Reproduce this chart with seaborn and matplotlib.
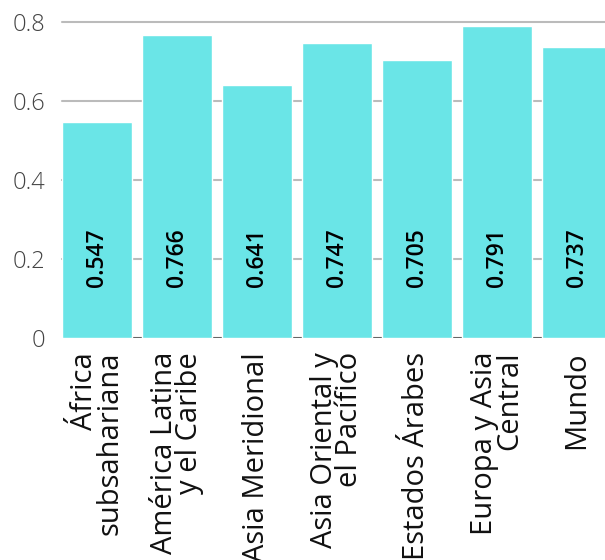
import matplotlib
matplotlib.use('Agg')
import matplotlib.pyplot as plt
import seaborn as sns
import pandas as pd

regiones = ['África\nsubsahariana', 'América Latina\ny el Caribe', 'Asia Meridional',
            'Asia Oriental y\nel Pacífico', 'Estados Árabes', 'Europa y Asia\nCentral', 'Mundo']
valores = [0.547, 0.766, 0.641, 0.747, 0.705, 0.791, 0.737]
ticks_y = [0, 0.2, 0.4, 0.6, 0.8]
ticks_y_txt = ['0', '0.2', '0.4', '0.6', '0.8']

df = pd.DataFrame({'region': regiones, 'idh': valores})

sns.set_style('white')
plt.rcParams['font.family'] = ['Open Sans', 'DejaVu Sans']

fig = plt.figure(figsize=(6.05, 5.6), dpi=100)
ax = fig.add_axes([62 / 605, 1 - 338 / 560, 560 / 605, 316 / 560])

sns.barplot(data=df, x='region', y='idh', color='#6ae5e7', saturation=1,
            width=0.875, ax=ax, zorder=2)

ax.set_xlim(-0.4375, 6.5625)
ax.set_ylim(0, 0.8)
ax.set_yticks(ticks_y)
ax.set_yticklabels(ticks_y_txt, fontsize=17, color='#444444', fontweight='light')
ax.tick_params(axis='y', length=0, pad=12)
ax.tick_params(axis='x', length=0, pad=10)
ax.set_xticks(range(len(regiones)))
ax.set_xticklabels(regiones, rotation=90, fontsize=21, color='#111111',
                   fontweight='medium', ha='center', va='top',
                   multialignment='right', linespacing=0.85)
ax.set_xlabel('')
ax.set_ylabel('')
for s in ax.spines.values():
    s.set_visible(False)

for y in ticks_y[1:]:
    ax.axhline(y, color='#bbbbbb', lw=1.5, zorder=1, clip_on=False)
ax.axhline(0, color='#666666', lw=1.5, zorder=1)

for i, v in enumerate(valores):
    ax.text(i, 0.13, f'{v:.3f}', rotation=90, ha='center', va='bottom',
            fontsize=16.5, fontweight='semibold', color='black', zorder=3)

fig.savefig('out.png', dpi=100)
